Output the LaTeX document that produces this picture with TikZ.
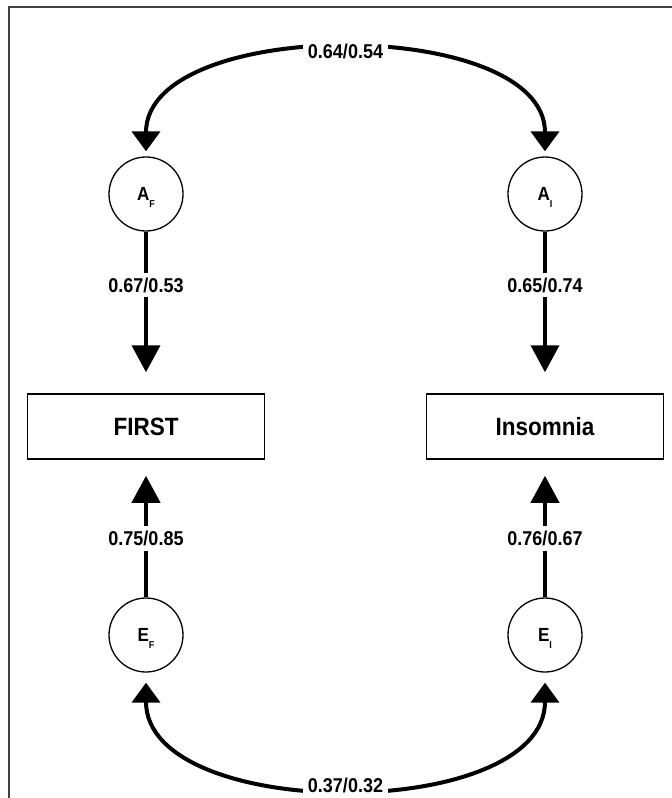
\documentclass[tikz,border=0pt]{standalone}
\usepackage{fontspec}
\setmainfont{Liberation Sans}[FakeStretch=0.9]
\usetikzlibrary{arrows.meta, positioning}
\newcommand{\latvar}[2]{#1\raisebox{-7pt}[0pt][0pt]{\fontsize{10}{10}\selectfont #2}}

\begin{document}
\begin{tikzpicture}[
    x=1pt, y=-1pt,
    latent/.style={circle, draw, line width=1.3pt, minimum size=74pt, inner sep=0pt, font=\fontsize{19}{19}\selectfont\bfseries},
    measured/.style={rectangle, draw, line width=1.5pt, minimum width=237pt, minimum height=65pt, font=\fontsize{25}{25}\selectfont\bfseries},
    loading/.style={line width=4pt, -{Triangle[width=28pt, length=27pt]}},
    corr/.style={line width=4pt, {Triangle[width=28pt, length=20pt]}-{Triangle[width=28pt, length=20pt]}},
    coef/.style={fill=white, inner sep=5pt, font=\fontsize{20}{20}\selectfont\bfseries},
    panel/.style={line width=1.5pt, black!75}
]
\useasboundingbox (0,0) rectangle (672,798);
\draw[panel] (9,798) -- (9,7) -- (672,7);

\node[latent] (AF) at (146,194) {\latvar{A}{F}};
\node[latent] (AI) at (545,194) {\latvar{A}{I}};
\node[measured] (first) at (146,426.5) {FIRST};
\node[measured] (insom) at (545,426.5) {Insomnia};
\node[latent] (EF) at (146,635) {\latvar{E}{F}};
\node[latent] (EI) at (545,635) {\latvar{E}{I}};

% Loadings
\draw[loading, shorten >=21pt] (AF) -- (first) node[coef, pos=0.33] {0.67/0.53};
\draw[loading, shorten >=21pt] (AI) -- (insom) node[coef, pos=0.33] {0.65/0.74};
\draw[loading, shorten >=16pt] (EF) -- (first) node[coef, pos=0.43] {0.75/0.85};
\draw[loading, shorten >=16pt] (EI) -- (insom) node[coef, pos=0.43] {0.76/0.67};

% Correlations
\draw[corr, shorten <=5pt, shorten >=5pt] (AF.north) .. controls (146,16) and (545,16) .. (AI.north) node[coef, midway] {0.64/0.54};
\draw[corr, shorten <=10pt, shorten >=10pt] (EF.south) .. controls (146,823) and (545,823) .. (EI.south) node[coef, midway] {0.37/0.32};
\end{tikzpicture}
\end{document}
